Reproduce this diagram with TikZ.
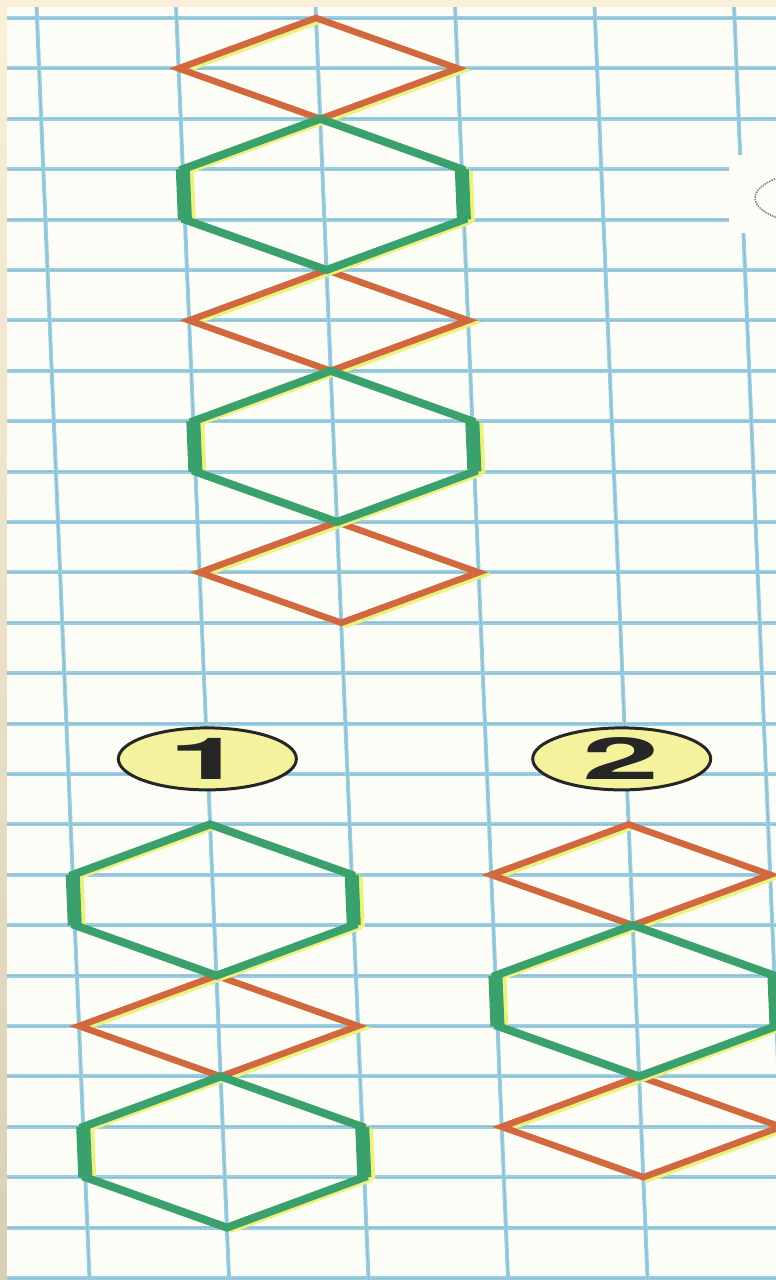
\documentclass[tikz,border=0pt]{standalone}
\usepackage{fontspec}
\setmainfont{TeX Gyre Heros}
\newfontfamily\numfont{TeX Gyre Heros}
\usepackage{xcolor}
\definecolor{gpBorderTop}{HTML}{FCEFDA}
\definecolor{gpBorderBot}{HTML}{D9CFB6}
\definecolor{gpPaper}{HTML}{FDFDF7}
\definecolor{gpBlue}{HTML}{98CFE4}
\definecolor{gpDots}{HTML}{93A9AE}
\definecolor{gpOrange}{HTML}{D2683F}
\definecolor{gpGreen}{HTML}{3AA06C}
\definecolor{gpGhost}{HTML}{EDF27C}
\definecolor{gpYellow}{HTML}{F5F29E}
\definecolor{gpInk}{HTML}{262626}
\usetikzlibrary{shapes.geometric}

\begin{document}
\begin{tikzpicture}[
    x=1pt, y=-1pt,
    gridline/.style={gpBlue, line width=4pt},
    griddots/.style={gpDots, line width=1pt, densely dotted},
    rhombline/.style={gpOrange, line width=6.5pt, line join=miter},
    hexline/.style={gpGreen, line width=8pt, line join=miter},
    hexside/.style={gpGreen, line width=14pt},
    ghost/.style={gpGhost, line width=6pt, xshift=5pt, yshift=-2pt},
    numlabel/.style={ellipse, draw=gpInk, fill=gpYellow, line width=3pt, minimum width=178pt, minimum height=62pt, inner sep=0pt, text=gpInk, font=\numfont\bfseries\fontsize{58}{58}\selectfont},
  ]
  % Page and border
  \useasboundingbox (0,0) rectangle (776,1280);
  \shade[top color=gpBorderTop, bottom color=gpBorderBot] (0,0) rectangle (776,1280);
  \fill[gpPaper] (7,7) rectangle (776,1280);

  % Squared paper
  \begin{scope}
    \clip (7,7) rectangle (776,1280);
    \begin{scope}[x={(139.5pt,0pt)}, y={(2.1pt,-50.4pt)}, shift={(37pt,-18pt)}]
      \foreach \r in {0,...,25} {
        \draw[gridline] (-1,\r) -- (7,\r);
        \draw[griddots] (-1,\r) -- (7,\r);
      }
      \foreach \c in {0,...,5} {
        \draw[gridline] (\c,-1) -- (\c,26);
        \draw[griddots] (\c,-1) -- (\c,26);
      }
    \end{scope}
    % Cut-off label on the right
    \fill[gpPaper, rounded corners=8pt] (729,155) rectangle (790,233);
    \draw[gpInk!60, line width=1.5pt, densely dotted] (843,198) ellipse [x radius=88pt, y radius=30pt];
  \end{scope}

  \begin{scope}[x={(139.5pt,0pt)}, y={(2.1pt,-50.4pt)}, shift={(37pt,-18pt)}]
    % Rhombs
    \foreach \c/\r in {2/0, 2/5, 2/10, 1/19, 4/16, 4/21} {
      \draw[ghost] (\c,\r) -- (\c+1,\r+1) -- (\c,\r+2) -- (\c-1,\r+1) -- cycle;
      \draw[rhombline] (\c,\r) -- (\c+1,\r+1) -- (\c,\r+2) -- (\c-1,\r+1) -- cycle;
    }

    % Hexagons
    \foreach \c/\r in {2/2, 2/7, 1/16, 1/21, 4/18} {
      \draw[ghost] (\c,\r) -- (\c+1,\r+1) -- (\c+1,\r+2) -- (\c,\r+3) -- (\c-1,\r+2) -- (\c-1,\r+1) -- cycle;
      \draw[ghost, line width=12pt] (\c-1,\r+1) -- (\c-1,\r+2) (\c+1,\r+1) -- (\c+1,\r+2);
      \draw[hexline] (\c,\r) -- (\c+1,\r+1) -- (\c+1,\r+2) -- (\c,\r+3) -- (\c-1,\r+2) -- (\c-1,\r+1) -- cycle;
      \draw[hexside] (\c-1,\r+1) -- (\c-1,\r+2) (\c+1,\r+1) -- (\c+1,\r+2);
    }

    % Numbered labels
    \node[numlabel] (lab1) at (1,14.7) {\scalebox{2.4}[1]{1}};
    \node[numlabel] (lab2) at (3.97,14.7) {\scalebox{2.4}[1]{2}};
  \end{scope}
\end{tikzpicture}
\end{document}
